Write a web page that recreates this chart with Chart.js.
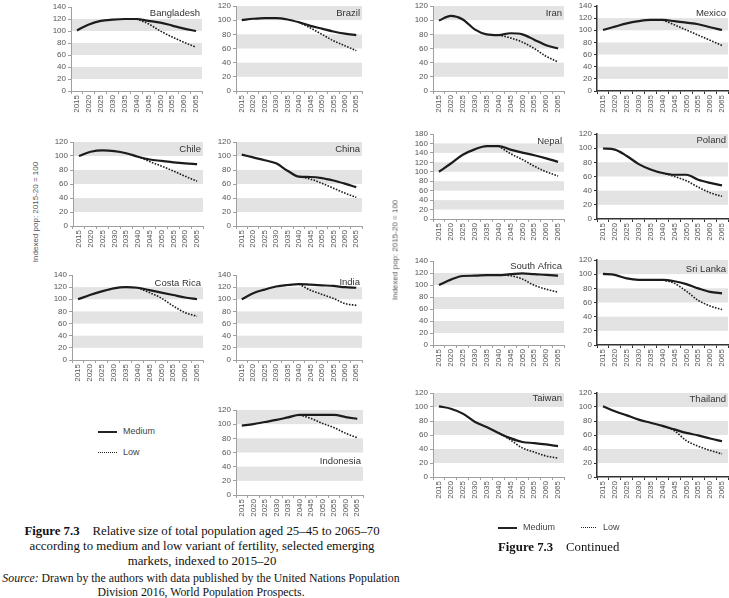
<!DOCTYPE html>
<html>
<head>
<meta charset="utf-8">
<script src="https://cdn.jsdelivr.net/npm/chart.js@4.4.1/dist/chart.umd.min.js"></script>
<style>
  body { margin: 0; background: #fff; width: 729px; height: 598px; position: relative; overflow: hidden;
         font-family: "Liberation Sans", Arial, sans-serif; }
  canvas { position: absolute; }
  .abs { position: absolute; white-space: nowrap; }
  .leg { font-size: 9px; color: #444; }
  .cap { font-family: "Liberation Serif", "Times New Roman", serif; color: #111; }
  .ytitle { font-size: 8px; color: #555; transform: translate(-50%, -50%) rotate(-90deg); }
</style>
</head>
<body>

<script>
// tick labels shared by every panel
const years = ['2015', '2020', '2025', '2030', '2035', '2040', '2045', '2050', '2055', '2060', '2065'];

// medium variant / low variant (low only drawn from 2040, where it splits off)
const bangladeshMedium = [101, 111, 117, 119, 120, 120, 117, 114, 109, 104, 100];
const bangladeshLow    = [null, null, null, null, null, 120, 112, 100, 90, 81, 73];
const brazilMedium     = [100, 102, 103, 103, 101, 97, 92, 88, 84, 81, 79];
const brazilLow        = [null, null, null, null, null, 97, 89, 80, 71, 64, 57];
const chileMedium      = [100, 106, 108, 107, 104, 99, 95, 93, 91, 89.5, 88.5];
const chileLow         = [null, null, null, null, null, 99, 92, 85.5, 78.5, 71, 64];
const chinaMedium      = [102, 98, 94, 89.5, 79, 70.5, 70, 68.5, 65, 60.5, 55.5];
const chinaLow         = [null, null, null, null, null, 70.5, 67, 61, 54, 47, 41];
const costaRicaMedium  = [100, 107, 113, 118, 120, 119, 115, 111, 107, 103, 100];
const costaRicaLow     = [null, null, null, null, null, 119, 111, 102, 89, 78, 72];
const indiaMedium      = [100, 110, 116, 121, 123.5, 125, 124, 123, 122, 120, 119];
const indiaLow         = [null, null, null, null, null, 125, 115, 108, 101.5, 93, 90];
const indonesiaMedium  = [98, 100, 103, 106, 109.5, 113, 113, 113, 113, 110, 107.5];
const indonesiaLow     = [null, null, null, null, null, 113, 108, 101, 95, 87, 81];
const iranMedium       = [99.5, 106, 101, 87, 80, 79, 81.5, 80, 72.5, 64.5, 60];
const iranLow          = [null, null, null, null, null, 79, 75, 69, 60, 49, 41];
const mexicoMedium     = [100.5, 106, 111.5, 115, 117, 117, 115, 112.5, 110, 105, 100.5];
const mexicoLow        = [null, null, null, null, null, 117, 109, 100.5, 92, 83.5, 75];
const nepalMedium      = [100, 117.5, 136, 147.5, 154.5, 154.5, 147, 140.5, 135, 128.5, 121];
const nepalLow         = [null, null, null, null, null, 154.5, 138.5, 126, 112, 100, 91];
const polandMedium     = [99.5, 98, 89, 77.5, 70, 65, 62.5, 62.5, 55.5, 51, 47.5];
const polandLow        = [null, null, null, null, null, 65, 60, 54, 45, 37, 32];
const southAfricaMedium = [100, 109, 115, 115.5, 116.5, 116.5, 118, 119.5, 118, 117, 115.5];
const southAfricaLow   = [null, null, null, null, null, 116.5, 115.5, 110, 99.5, 93, 88];
const sriLankaMedium   = [100.5, 99, 94, 92, 92, 92, 90, 86, 80, 75, 73];
const sriLankaLow      = [null, null, null, null, null, 92, 87, 76, 63, 55, 50];
const taiwanMedium     = [101, 97.5, 90.5, 79, 71.5, 63, 55.5, 50, 48.5, 46.5, 44];
const taiwanLow        = [null, null, null, null, null, 63, 53, 41.5, 35.5, 30, 27];
const thailandMedium   = [101, 94, 88, 82, 77.5, 73, 68, 63, 59.5, 55, 51];
const thailandLow      = [null, null, null, null, null, 73, 66, 52, 44, 38, 33];

// panel placement: L/R = plot edges, T = pixel of top value, B = pixel of zero
const panels = [
  { name: 'Bangladesh', med: bangladeshMedium, low: bangladeshLow, max: 140, L: 71,  R: 202, T: 7,   B: 91,  dy: 6 },
  { name: 'Brazil',     med: brazilMedium,     low: brazilLow,     max: 120, L: 236, R: 362, T: 6,   B: 91,  dy: 7 },
  { name: 'Chile',      med: chileMedium,      low: chileLow,      max: 120, L: 73,  R: 203, T: 142, B: 226, dy: 7 },
  { name: 'China',      med: chinaMedium,      low: chinaLow,      max: 120, L: 236, R: 362, T: 142, B: 226, dy: 7 },
  { name: 'Costa Rica', med: costaRicaMedium,  low: costaRicaLow,  max: 140, L: 72,  R: 203, T: 275, B: 360, dy: 8 },
  { name: 'India',      med: indiaMedium,      low: indiaLow,      max: 140, L: 236, R: 362, T: 275, B: 360, dy: 7 },
  { name: 'Indonesia',  med: indonesiaMedium,  low: indonesiaLow,  max: 120, L: 236, R: 363, T: 410, B: 495, dy: 51 },
  { name: 'Iran',       med: iranMedium,       low: iranLow,       max: 120, L: 433, R: 564, T: 6,   B: 91,  dy: 7 },
  { name: 'Mexico',     med: mexicoMedium,     low: mexicoLow,     max: 140, L: 597, R: 728, T: 6,   B: 91,  dy: 7, dark: true },
  { name: 'Nepal',      med: nepalMedium,      low: nepalLow,      max: 180, L: 433, R: 564, T: 134, B: 219, dy: 7 },
  { name: 'Poland',     med: polandMedium,     low: polandLow,     max: 120, L: 597, R: 728, T: 134, B: 219, dy: 6, dark: true },
  { name: 'South Africa', med: southAfricaMedium, low: southAfricaLow, max: 140, L: 433, R: 564, T: 261, B: 345, dy: 5 },
  { name: 'Sri Lanka',  med: sriLankaMedium,   low: sriLankaLow,   max: 120, L: 597, R: 728, T: 260, B: 345, dy: 9, dark: true },
  { name: 'Taiwan',     med: taiwanMedium,     low: taiwanLow,     max: 120, L: 433, R: 564, T: 393, B: 477, dy: 5 },
  { name: 'Thailand',   med: thailandMedium,   low: thailandLow,   max: 120, L: 597, R: 728, T: 393, B: 477, dy: 6, dark: true }
];

const YW = 28, XH = 28, PT = 8, PR = 8;

// grey bands behind the lines: 20-40, 60-80, 100-120, 140-160
const bands = {
  id: 'bands',
  beforeDraw(chart) {
    const { ctx, chartArea: a, scales: { y } } = chart;
    ctx.save();
    ctx.fillStyle = '#e3e3e3';
    for (let lo = 20; lo < y.max; lo += 40) {
      const top = y.getPixelForValue(Math.min(lo + 20, y.max));
      const bot = y.getPixelForValue(lo);
      ctx.fillRect(a.left, top, a.right - a.left, bot - top);
    }
    ctx.restore();
  }
};

const panelTitle = {
  id: 'panelTitle',
  afterDraw(chart, args, opts) {
    const { ctx, chartArea: a } = chart;
    ctx.save();
    ctx.font = '9.5px "Liberation Sans", Arial, sans-serif';
    ctx.fillStyle = '#333';
    ctx.textAlign = 'right';
    ctx.textBaseline = 'middle';
    ctx.fillText(opts.text, a.right - 2, a.top + opts.dy);
    ctx.restore();
  }
};

panels.forEach(p => {
  const cv = document.createElement('canvas');
  const w = p.R - p.L + YW + PR, h = p.B - p.T + PT + XH;
  cv.width = w; cv.height = h;
  cv.style.width = w + 'px'; cv.style.height = h + 'px';
  cv.style.left = (p.L - YW) + 'px';
  cv.style.top = (p.T - PT) + 'px';
  document.body.appendChild(cv);

  const axisColor = p.dark ? '#333' : '#a0a0a0';
  const axisWidth = p.dark ? 1.5 : 1;

  new Chart(cv, {
    type: 'line',
    data: {
      labels: years,
      datasets: [
        { label: 'Medium', data: p.med, borderColor: '#1c1c1c', borderWidth: 2.2,
          pointRadius: 0, cubicInterpolationMode: 'monotone' },
        { label: 'Low', data: p.low, borderColor: '#1c1c1c', borderWidth: 1.6, borderDash: [1.6, 1.4],
          pointRadius: 0, cubicInterpolationMode: 'monotone' }
      ]
    },
    options: {
      responsive: false,
      animation: false,
      layout: { padding: { top: PT, right: PR, left: 0, bottom: 0 } },
      plugins: {
        legend: { display: false },
        tooltip: { enabled: false },
        panelTitle: { text: p.name, dy: p.dy }
      },
      scales: {
        x: {
          offset: true,
          afterFit: s => { s.height = XH; },
          grid: { drawOnChartArea: false, offset: true, tickLength: 3, color: axisColor },
          border: { color: axisColor, width: axisWidth },
          ticks: { autoSkip: false, maxRotation: 90, minRotation: 90, padding: 1,
                   color: '#555', font: { size: 8, family: '"Liberation Sans", Arial, sans-serif', lineHeight: 1 } }
        },
        y: {
          min: 0, max: p.max,
          afterFit: s => { s.width = YW; },
          grid: { drawOnChartArea: false, tickLength: 3, color: axisColor },
          border: { color: axisColor, width: axisWidth },
          ticks: { stepSize: 20, autoSkip: false, padding: 2,
                   color: '#555', font: { size: 8, family: '"Liberation Sans", Arial, sans-serif', lineHeight: 1 } }
        }
      }
    },
    plugins: [bands, panelTitle]
  });
});
</script>

<!-- axis titles -->
<div class="abs ytitle" style="left:35px; top:212px;">Indexed pop: 2015-20 = 100</div>
<div class="abs ytitle" style="left:395px; top:250px;">Indexed pop: 2015-20 = 100</div>

<!-- legend, left page -->
<div class="abs" style="left:98px; top:431px; width:19px; border-top:2px solid #222;"></div>
<div class="abs leg" style="left:123px; top:426px;">Medium</div>
<div class="abs" style="left:98px; top:452px; width:19px; border-top:1.5px dotted #222;"></div>
<div class="abs leg" style="left:123px; top:447px;">Low</div>

<!-- legend, right page -->
<div class="abs" style="left:498px; top:527px; width:19px; border-top:2px solid #222;"></div>
<div class="abs leg" style="left:523px; top:522px;">Medium</div>
<div class="abs" style="left:581px; top:527px; width:15px; border-top:1.5px dotted #222;"></div>
<div class="abs leg" style="left:603px; top:522px;">Low</div>

<!-- captions -->
<div class="abs cap" style="left:0; top:524px; width:404px; text-align:center; font-size:12.8px; line-height:15px;">
  <b>Figure 7.3</b>&nbsp;&nbsp;&nbsp; Relative size of total population aged 25–45 to 2065–70<br>
  according to medium and low variant of fertility, selected emerging<br>
  markets, indexed to 2015–20
</div>
<div class="abs cap" style="left:0; top:571px; width:402px; text-align:center; font-size:11.8px; line-height:14px;">
  <i>Source:</i> Drawn by the authors with data published by the United Nations Population<br>
  Division 2016, World Population Prospects.
</div>
<div class="abs cap" style="left:498px; top:540px; font-size:12.8px;">
  <b>Figure 7.3</b>&nbsp;&nbsp;&nbsp; Continued
</div>

</body>
</html>
